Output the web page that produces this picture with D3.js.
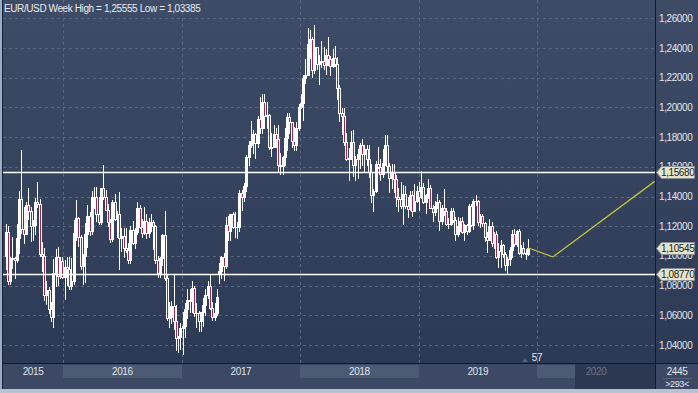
<!DOCTYPE html>
<meta charset="utf-8">
<style>
    body { margin: 0; background: #2f3b55; }
    svg { display: block; font-family: "Liberation Sans", Arial, sans-serif; }
    .grid line { stroke: #5a6681; stroke-dasharray: 3,3; shape-rendering: crispEdges; }
    .lbl { font-size: 10px; letter-spacing: -0.4px; fill: #e2e6ed; }
</style>
<svg width="698" height="393"></svg>
<script src="https://d3js.org/d3.v7.min.js"></script>
<script>
    // weekly EUR/USD candles, week of 2015-07-06 .. week of 2019-12-02
    var firstWeek = new Date(2015, 6, 6), lastWeek = new Date(2019, 11, 2);

    var opens = [
        1.1000,1.1160,1.0830,1.0980,1.0985,1.0970,1.1120,1.1385,1.1180,1.1150,1.1340,1.1300,1.1200,1.1210,1.1360,1.1350,1.1015,1.1000,1.0740,1.0770,1.0645,1.0590,1.0885,1.0990,1.0865,1.0965,
        1.0860,1.0925,1.0915,1.0795,1.0830,1.1155,1.1255,1.1130,1.0935,1.1000,1.1150,1.1270,1.1165,1.1395,1.1400,1.1285,1.1225,1.1455,1.1400,1.1310,1.1225,1.1115,1.1365,1.1250,1.1280,1.1120,1.1135,1.1050,1.1040,1.0975,1.1175,1.1085,1.1160,1.1325,1.1195,1.1155,1.1235,1.1155,1.1225,1.1225,1.1200,1.0970,1.0885,1.0985,1.1140,1.0850,1.0585,1.0590,1.0665,1.0560,1.0450,1.0455,
        1.0515,1.0530,1.0640,1.0705,1.0695,1.0785,1.0615,1.0615,1.0560,1.0620,1.0670,1.0735,1.0800,1.0650,1.0590,1.0615,1.0880,1.0895,1.0995,1.0930,1.1205,1.1165,1.1280,1.1195,1.1195,1.1195,1.1425,1.1400,1.1470,1.1665,1.1750,1.1775,1.1820,1.1760,1.1925,1.1860,1.2035,1.1945,1.1950,1.1735,1.1730,1.1820,1.1785,1.1610,1.1605,1.1665,1.1795,1.1935,1.1900,1.1775,1.1750,1.1860,
        1.2005,1.2030,1.2200,1.2220,1.2425,1.2460,1.2250,1.2405,1.2295,1.2315,1.2310,1.2285,1.2355,1.2325,1.2280,1.2330,1.2290,1.2130,1.1960,1.1940,1.1770,1.1650,1.1660,1.1770,1.1610,1.1655,1.1685,1.1745,1.1685,1.1720,1.1655,1.1565,1.1410,1.1440,1.1620,1.1600,1.1550,1.1625,1.1750,1.1605,1.1525,1.1560,1.1515,1.1400,1.1385,1.1335,1.1420,1.1335,1.1315,1.1410,1.1305,1.1370,1.1440,
        1.1395,1.1465,1.1365,1.1410,1.1455,1.1325,1.1295,1.1335,1.1365,1.1235,1.1325,1.1300,1.1215,1.1215,1.1300,1.1245,1.1150,1.1200,1.1235,1.1160,1.1205,1.1170,1.1335,1.1210,1.1370,1.1370,1.1225,1.1270,1.1220,1.1130,1.1110,1.1200,1.1090,1.1145,1.0990,1.1030,1.1075,1.1015,1.0940,1.0980,1.1040,1.1145,1.1080,1.1165,1.1020,1.1050,1.1020,1.1015
    ];
    var highs = [
        1.1215,1.1200,1.0990,1.1130,1.0995,1.1215,1.1440,1.1714,1.1330,1.1360,1.1460,1.1330,1.1240,1.1390,1.1495,1.1380,1.1095,1.1050,1.0830,1.0790,1.0690,1.0980,1.1045,1.1060,1.0995,1.0990,
        1.0970,1.0990,1.0990,1.0985,1.1245,1.1375,1.1260,1.1140,1.1015,1.1220,1.1340,1.1295,1.1440,1.1465,1.1465,1.1400,1.1460,1.1615,1.1445,1.1350,1.1250,1.1375,1.1415,1.1300,1.1430,1.1190,1.1185,1.1185,1.1085,1.1200,1.1235,1.1190,1.1365,1.1345,1.1250,1.1330,1.1285,1.1255,1.1280,1.1240,1.1210,1.1000,1.0990,1.1145,1.1300,1.0870,1.0690,1.0695,1.0875,1.0670,1.0460,1.0545,
        1.0620,1.0685,1.0775,1.0775,1.0830,1.0800,1.0680,1.0630,1.0625,1.0715,1.0780,1.0830,1.0875,1.0690,1.0680,1.0780,1.0950,1.1000,1.1020,1.1265,1.1270,1.1285,1.1295,1.1295,1.1230,1.1445,1.1445,1.1490,1.1680,1.1775,1.1910,1.1850,1.1830,1.1940,1.2070,1.2090,1.2090,1.2035,1.1955,1.1830,1.1880,1.1860,1.1880,1.1690,1.1670,1.1860,1.1960,1.1960,1.1905,1.1865,1.1900,1.2025,
        1.2090,1.2215,1.2325,1.2535,1.2520,1.2475,1.25555,1.2410,1.2350,1.2445,1.2410,1.2390,1.2475,1.2345,1.2395,1.2415,1.2340,1.2150,1.1995,1.1995,1.1830,1.1725,1.1840,1.1850,1.1675,1.1720,1.1760,1.1790,1.1750,1.1750,1.1745,1.1620,1.1450,1.1640,1.1735,1.1650,1.1720,1.1815,1.1815,1.1625,1.1620,1.1620,1.1545,1.1455,1.1500,1.1475,1.1470,1.1400,1.1440,1.1440,1.1485,1.1470,1.1500,
        1.1570,1.1490,1.1415,1.1515,1.1480,1.1345,1.1370,1.1420,1.1375,1.1345,1.1450,1.1325,1.1255,1.1325,1.1325,1.1265,1.1265,1.1255,1.1265,1.1215,1.1215,1.1350,1.1350,1.1380,1.1410,1.1375,1.1285,1.1285,1.1230,1.1160,1.1250,1.1230,1.1160,1.1165,1.1085,1.1110,1.1080,1.1025,1.0990,1.1060,1.1175,1.1180,1.1175,1.1180,1.1075,1.1095,1.1045,1.1115
    ];
    var lows = [
        1.0915,1.0808,1.0810,1.0920,1.0850,1.0960,1.1020,1.1155,1.1085,1.1150,1.1250,1.1100,1.1105,1.1150,1.1330,1.1000,1.0895,1.0700,1.0675,1.0615,1.0560,1.0524,1.0800,1.0805,1.0850,1.0850,
        1.0710,1.0805,1.0780,1.0775,1.0810,1.1110,1.1065,1.0915,1.0810,1.0825,1.1060,1.1140,1.1145,1.1325,1.1235,1.1215,1.1215,1.1385,1.1310,1.1200,1.1095,1.1100,1.1245,1.1130,1.0910,1.1030,1.0990,1.1025,1.0950,1.0950,1.1080,1.1055,1.1150,1.1190,1.1125,1.1150,1.1120,1.1125,1.1170,1.1045,1.0955,1.0860,1.0855,1.0940,1.0840,1.0570,1.0520,1.0550,1.0505,1.0365,1.0350,1.0375,
        1.03385,1.0455,1.0580,1.0620,1.0620,1.0595,1.0520,1.0495,1.0495,1.0525,1.0605,1.0715,1.0645,1.0570,1.0570,1.0605,1.0820,1.0850,1.0840,1.0920,1.1110,1.1110,1.1190,1.1130,1.1120,1.1170,1.1310,1.1370,1.1440,1.1610,1.1730,1.1690,1.1660,1.1735,1.1825,1.1825,1.1860,1.1860,1.1720,1.1670,1.1730,1.1730,1.1575,1.1550,1.1550,1.1615,1.1710,1.1825,1.1730,1.1715,1.1715,1.1850,
        1.1995,1.1915,1.2165,1.2215,1.2335,1.2205,1.2235,1.2260,1.2155,1.2270,1.2260,1.2225,1.2285,1.2215,1.2275,1.2280,1.2055,1.1910,1.1820,1.1750,1.1645,1.1510,1.1655,1.1540,1.1510,1.1525,1.1590,1.1610,1.1575,1.1610,1.1530,1.1365,1.1300,1.1430,1.1590,1.1510,1.1530,1.1610,1.1570,1.1430,1.1460,1.1430,1.1335,1.1300,1.1320,1.1215,1.1320,1.1265,1.1310,1.1270,1.1300,1.1360,1.1310,
        1.1390,1.1355,1.1290,1.1390,1.1320,1.1235,1.1275,1.1325,1.1175,1.1215,1.1275,1.1210,1.1185,1.1210,1.1230,1.1110,1.1135,1.1165,1.1155,1.1105,1.1150,1.1160,1.1200,1.1180,1.1345,1.1205,1.1195,1.1200,1.1100,1.1025,1.1105,1.1065,1.1050,1.0985,1.0925,1.0925,1.0990,1.0905,1.0880,1.0940,1.0990,1.1070,1.1070,1.1015,1.0990,1.1010,1.0980,1.1005
    ];
    var closes = [
        1.1160,1.0830,1.0980,1.0985,1.0970,1.1120,1.1385,1.1180,1.1150,1.1340,1.1300,1.1200,1.1210,1.1360,1.1350,1.1015,1.1000,1.0740,1.0770,1.0645,1.0590,1.0885,1.0990,1.0865,1.0965,1.0860,
        1.0925,1.0915,1.0795,1.0830,1.1155,1.1255,1.1130,1.0935,1.1000,1.1150,1.1270,1.1165,1.1395,1.1400,1.1285,1.1225,1.1455,1.1400,1.1310,1.1225,1.1115,1.1365,1.1250,1.1280,1.1120,1.1135,1.1050,1.1040,1.0975,1.1175,1.1085,1.1160,1.1325,1.1195,1.1155,1.1235,1.1155,1.1225,1.1225,1.1200,1.0970,1.0885,1.0985,1.1140,1.0850,1.0585,1.0590,1.0665,1.0560,1.0450,1.0455,1.0515,
        1.0530,1.0640,1.0705,1.0695,1.0785,1.0615,1.0615,1.0560,1.0620,1.0670,1.0735,1.0800,1.0650,1.0590,1.0615,1.0725,1.0895,1.0995,1.0930,1.1205,1.1165,1.1280,1.1195,1.1195,1.1195,1.1425,1.1400,1.1470,1.1665,1.1750,1.1775,1.1820,1.1760,1.1925,1.1860,1.2035,1.1945,1.1950,1.1735,1.1730,1.1820,1.1785,1.1610,1.1605,1.1665,1.1795,1.1935,1.1900,1.1775,1.1750,1.1860,1.2005,
        1.2030,1.2200,1.2220,1.2425,1.2460,1.2250,1.2405,1.2295,1.2315,1.2310,1.2285,1.2355,1.2325,1.2280,1.2330,1.2290,1.2130,1.1960,1.1940,1.1770,1.1650,1.1660,1.1770,1.1610,1.1655,1.1685,1.1745,1.1685,1.1720,1.1655,1.1565,1.1410,1.1440,1.1620,1.1600,1.1550,1.1625,1.1750,1.1605,1.1525,1.1560,1.1515,1.1400,1.1385,1.1335,1.1420,1.1335,1.1315,1.1410,1.1305,1.1370,1.1440,1.1395,
        1.1465,1.1365,1.1410,1.1455,1.1325,1.1295,1.1335,1.1365,1.1235,1.1325,1.1300,1.1215,1.1215,1.1300,1.1245,1.1150,1.1200,1.1235,1.1160,1.1205,1.1170,1.1335,1.1210,1.1370,1.1370,1.1225,1.1270,1.1220,1.1130,1.1110,1.1200,1.1090,1.1145,1.0990,1.1030,1.1075,1.1015,1.0940,1.0980,1.1040,1.1145,1.1080,1.1165,1.1020,1.1050,1.1020,1.1015,1.10545
    ];

    // price axis ticks and marked levels
    var priceTicks = [1.04, 1.06, 1.08, 1.10, 1.12, 1.14, 1.16, 1.18, 1.20, 1.22, 1.24, 1.26];
    var hLines = [1.1568, 1.0877];
    var tagValues = [1.1568, 1.10545, 1.0877];

    // yellow projection line
    var projDates = ["2019-12-04", "2020-02-19", "2020-12-29"];
    var projValues = [1.10545, 1.0993, 1.1502];

    var yearLabels = ["2015", "2016", "2017", "2018", "2019", "2020"];

    var svg = d3.select("svg"),
        width = +svg.attr("width"),
        height = +svg.attr("height"),
        left = 3, right = 655, bottom = 363;

    var x = d3.scaleTime().domain([new Date(2016, 0, 1), new Date(2020, 0, 1)]).range([63, 537]);
    var y = d3.scaleLinear().domain([1.04, 1.26]).range([345, 18.3]);
    var comma = function(v) { return d3.format(".5f")(v).replace(".", ","); };

    var defs = svg.append("defs");
    var grad = defs.append("linearGradient").attr("id", "bg").attr("x1", 0).attr("y1", 0).attr("x2", 0).attr("y2", 1);
    grad.append("stop").attr("offset", "0%").attr("stop-color", "#3f4c68");
    grad.append("stop").attr("offset", "100%").attr("stop-color", "#2b3853");
    defs.append("clipPath").attr("id", "plot").append("rect")
        .attr("x", left).attr("y", 0).attr("width", right - left).attr("height", bottom);

    svg.append("rect").attr("width", width).attr("height", height).attr("fill", "url(#bg)");

    // grid
    var grid = svg.append("g").attr("class", "grid");
    grid.selectAll(".h").data(priceTicks).enter().append("line")
        .attr("x1", left).attr("x2", right)
        .attr("y1", function(d) { return Math.round(y(d)) + 0.5; })
        .attr("y2", function(d) { return Math.round(y(d)) + 0.5; });
    var yearStarts = d3.timeYear.range(new Date(2016, 0, 1), new Date(2021, 0, 1));
    grid.selectAll(".v").data(yearStarts).enter().append("line")
        .attr("x1", function(d) { return Math.round(x(d)) + 0.5; })
        .attr("x2", function(d) { return Math.round(x(d)) + 0.5; })
        .attr("y1", 0).attr("y2", bottom);

    // candles
    var weeks = d3.timeMonday.range(firstWeek, d3.timeDay.offset(lastWeek, 1));
    var candles = weeks.map(function(w, i) {
        return { date: w, o: opens[i], h: highs[i], l: lows[i], c: closes[i] };
    });
    var plot = svg.append("g").attr("clip-path", "url(#plot)");
    var cg = plot.selectAll(".candle").data(candles).enter().append("g").attr("class", "candle");
    cg.each(function(d) {
        var g = d3.select(this),
            cx = Math.round(x(d3.timeDay.offset(d.date, 2))),
            top = Math.round(y(Math.max(d.o, d.c))),
            bot = Math.round(y(Math.min(d.o, d.c)));
        g.append("line")
            .attr("x1", cx + 0.5).attr("x2", cx + 0.5)
            .attr("y1", Math.round(y(d.h))).attr("y2", Math.round(y(d.l)) + 1)
            .attr("stroke", "#ffffff");
        if (d.c >= d.o) {
            g.append("rect").attr("x", cx - 1).attr("y", top)
                .attr("width", 3).attr("height", Math.max(1, bot - top + 1))
                .attr("fill", "#ffffff");
        } else {
            g.append("rect").attr("x", cx - 0.5).attr("y", top + 0.5)
                .attr("width", 2).attr("height", Math.max(1, bot - top))
                .attr("fill", "#a3264a").attr("stroke", "#ffffff");
        }
    });

    // horizontal levels
    plot.selectAll(".lvl").data(hLines).enter().append("line")
        .attr("x1", left).attr("x2", right)
        .attr("y1", function(d) { return Math.round(y(d)) + 0.5; })
        .attr("y2", function(d) { return Math.round(y(d)) + 0.5; })
        .attr("stroke", "#ffffff").attr("stroke-width", 1.3);

    // projection
    var proj = projDates.map(function(d, i) { return [d3.isoParse(d), projValues[i]]; });
    plot.append("path").datum(proj)
        .attr("d", d3.line().x(function(d) { return x(d[0]); }).y(function(d) { return y(d[1]); }))
        .attr("fill", "none").attr("stroke", "#c9c83a").attr("stroke-width", 1.2);

    // time axis strip
    var ax = svg.append("g");
    ax.append("rect").attr("x", 0).attr("y", bottom).attr("width", width).attr("height", 26).attr("fill", "#3d4964");
    var bands = [[x(new Date(2016, 0, 1)), x(new Date(2017, 0, 1))],
                 [x(new Date(2018, 0, 1)), x(new Date(2019, 0, 1))],
                 [x(new Date(2020, 0, 1)), 575]];
    ax.selectAll(".band").data(bands).enter().append("rect")
        .attr("x", function(d) { return Math.round(d[0]); }).attr("y", 365)
        .attr("width", function(d) { return Math.round(d[1]) - Math.round(d[0]); }).attr("height", 13)
        .attr("fill", "#4d5a74");
    ax.append("rect").attr("x", 575).attr("y", bottom + 1).attr("width", right - 575).attr("height", 25).attr("fill", "#2c3852");
    var bounds = [left].concat(yearStarts.map(function(d) { return x(d); }), [right]);
    ax.selectAll(".yr").data(yearLabels).enter().append("text")
        .attr("class", "lbl")
        .attr("x", function(d, i) { return (bounds[i] + bounds[i + 1]) / 2; })
        .attr("y", 375).attr("text-anchor", "middle")
        .style("fill", function(d) { return d === "2020" ? "#68748d" : "#dfe3ea"; })
        .text(function(d) { return d; });

    // frame lines
    svg.append("line").attr("x1", 0).attr("x2", width).attr("y1", bottom + 0.5).attr("y2", bottom + 0.5).attr("stroke", "#121a2a");
    svg.append("line").attr("x1", right + 0.5).attr("x2", right + 0.5).attr("y1", 0).attr("y2", 389).attr("stroke", "#121a2a");
    svg.append("rect").attr("x", 0).attr("y", 0).attr("width", 2).attr("height", height).attr("fill", "#9eabc0");
    svg.append("line").attr("x1", 2.5).attr("x2", 2.5).attr("y1", 0).attr("y2", 389).attr("stroke", "#18223a");
    svg.append("rect").attr("x", 0).attr("y", 389).attr("width", width).attr("height", 4).attr("fill", "#b7c1d1");

    // right price axis
    svg.selectAll(".pt").data(priceTicks).enter().append("text")
        .attr("class", "lbl")
        .attr("x", 659).attr("y", function(d) { return y(d); }).attr("dy", "0.35em")
        .text(comma);

    var tags = svg.selectAll(".tag").data(tagValues).enter().append("g")
        .attr("transform", function(d) { return "translate(0," + Math.round(y(d)) + ")"; });
    tags.append("path")
        .attr("d", "M656.5,0.5 L661.5,-5.5 L694.5,-5.5 L694.5,6.5 L661.5,6.5 Z")
        .attr("fill", "#e4e3cb").attr("stroke", "#8c8f94");
    tags.append("text").attr("class", "lbl").attr("x", 661).attr("y", 0.5).attr("dy", "0.35em")
        .style("fill", "#1c1f26").text(comma);

    // title and misc texts
    svg.append("text").attr("class", "lbl").attr("x", 4).attr("y", 12)
        .style("fill", "#e8ebf0")
        .text("EUR/USD Week High = " + comma(d3.max(highs)) + " Low = " + comma(d3.min(lows)));
    svg.append("path").attr("d", "M522,362 L525,358 L528,362 Z").attr("fill", "#59637a");
    svg.append("text").attr("class", "lbl").attr("x", 537).attr("y", 361).attr("text-anchor", "middle").text("57");
    svg.append("text").attr("class", "lbl").attr("x", 677).attr("y", 375).attr("text-anchor", "middle").text("2445");
    svg.append("line").attr("x1", 663).attr("x2", 692).attr("y1", 378.5).attr("y2", 378.5).attr("stroke", "#56627c");
    svg.append("text").attr("class", "lbl").attr("x", 677).attr("y", 387).attr("text-anchor", "middle")
        .style("font-size", "9px").text(">293<");
</script>
